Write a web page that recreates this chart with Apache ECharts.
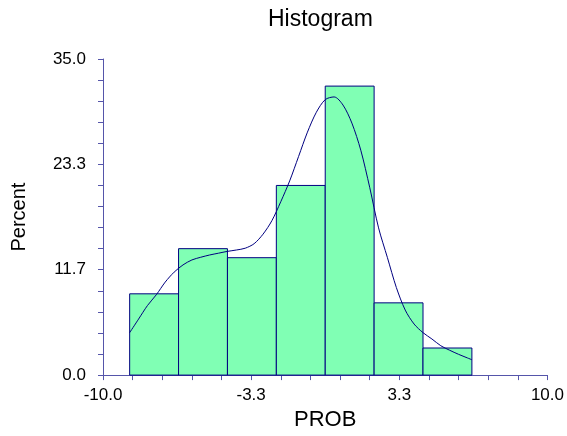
<!DOCTYPE html>
<html>
<head>
<meta charset="utf-8">
<script src="https://cdn.jsdelivr.net/npm/echarts@6/dist/echarts.min.js"></script>
<style>
html,body{margin:0;padding:0;background:#fff;}
#chart{width:567px;height:436px;}
</style>
</head>
<body>
<div id="chart"></div>
<script>
// ---- data ----
const binEdges = [-8.8, -6.6, -4.4, -2.2, 0, 2.2, 4.4, 6.6];
const percents = [9, 14, 13, 21, 32, 8, 3];
const densityX = [-8.8, -8.4, -8.0, -7.6, -7.2, -6.8, -6.4, -6.0, -5.6, -5.2, -4.8, -4.4, -4.0, -3.6, -3.2, -2.8, -2.4, -2.0, -1.6, -1.2, -0.8, -0.4, 0.0, 0.4, 0.8, 1.2, 1.6, 2.0, 2.4, 2.8, 3.2, 3.6, 4.0, 4.4, 4.8, 5.2, 5.6, 6.0, 6.4, 6.6];
const densityY = [4.7, 6.2, 7.7, 8.9, 10.3, 11.4, 12.2, 12.75, 13.05, 13.3, 13.5, 13.7, 13.85, 14.05, 14.55, 15.6, 17.1, 19.2, 21.5, 24.2, 26.9, 29.1, 30.5, 30.8, 29.9, 27.9, 24.9, 20.8, 16.3, 13.0, 9.7, 7.2, 5.65, 4.7, 4.0, 3.25, 2.75, 2.3, 1.9, 1.7];
const xTickLabels = ['-10.0', '-3.3', '3.3', '10.0'];
const yTickLabels = ['0.0', '11.7', '23.3', '35.0'];
const xMin = -10, xMax = 10, yMin = 0, yMax = 35;

// x axis is run on a shifted scale (0..20) so ticks start at a multiple of the interval
const SHIFT = -xMin;
const binData = percents.map((p, i) => [binEdges[i] + SHIFT, binEdges[i + 1] + SHIFT, p]);
const lineData = densityX.map((x, i) => [x + SHIFT, densityY[i]]);

const axisColor = '#5555aa';
const font = 'Arial, "Liberation Sans", sans-serif';

const chart = echarts.init(document.getElementById('chart'), null, {renderer: 'canvas'});
chart.setOption({
  animation: false,
  backgroundColor: '#ffffff',
  title: {
    text: 'Histogram',
    left: 268, top: 8, padding: 0,
    textStyle: {fontFamily: font, fontSize: 23, fontWeight: 'normal', color: '#000'}
  },
  grid: {left: 103, right: 19, top: 59, bottom: 56, containLabel: false},
  xAxis: {
    type: 'value',
    min: 0, max: xMax - xMin, interval: (xMax - xMin) / 3,
    name: 'PROB', nameLocation: 'middle', nameGap: 29,
    nameTextStyle: {fontFamily: font, fontSize: 22, color: '#000'},
    axisLine: {show: true, onZero: false, lineStyle: {color: axisColor, width: 1}},
    axisTick: {show: true, length: 5, lineStyle: {color: axisColor}},
    minorTick: {show: true, splitNumber: 5, length: 5, lineStyle: {color: axisColor}},
    splitLine: {show: false},
    axisLabel: {
      fontFamily: font, fontSize: 17, color: '#000', margin: 12,
      formatter: (v, i) => xTickLabels[i]
    }
  },
  yAxis: {
    type: 'value',
    min: yMin, max: yMax, interval: (yMax - yMin) / 3,
    name: 'Percent', nameLocation: 'middle', nameGap: 74, nameRotate: 90,
    nameTextStyle: {fontFamily: font, fontSize: 20, color: '#000'},
    axisLine: {show: true, lineStyle: {color: axisColor, width: 1}},
    axisTick: {show: true, length: 5, lineStyle: {color: axisColor}},
    minorTick: {show: true, splitNumber: 5, length: 5, lineStyle: {color: axisColor}},
    splitLine: {show: false},
    axisLabel: {
      fontFamily: font, fontSize: 17, color: '#000', margin: 17,
      formatter: (v, i) => yTickLabels[i]
    }
  },
  series: [
    {
      type: 'custom',
      data: binData,
      encode: {x: [0, 1], y: 2},
      renderItem: function (params, api) {
        const x0 = api.value(0), x1 = api.value(1), h = api.value(2);
        const p0 = api.coord([x0, h]);
        const p1 = api.coord([x1, 0]);
        return {
          type: 'rect',
          shape: {x: p0[0], y: p0[1], width: p1[0] - p0[0], height: p1[1] - p0[1]},
          style: {fill: '#80ffb4', stroke: '#000080', lineWidth: 1}
        };
      },
      z: 2
    },
    {
      type: 'line',
      data: lineData,
      smooth: 0.3,
      showSymbol: false,
      lineStyle: {color: '#000080', width: 1},
      z: 3
    }
  ]
});
</script>
</body>
</html>
